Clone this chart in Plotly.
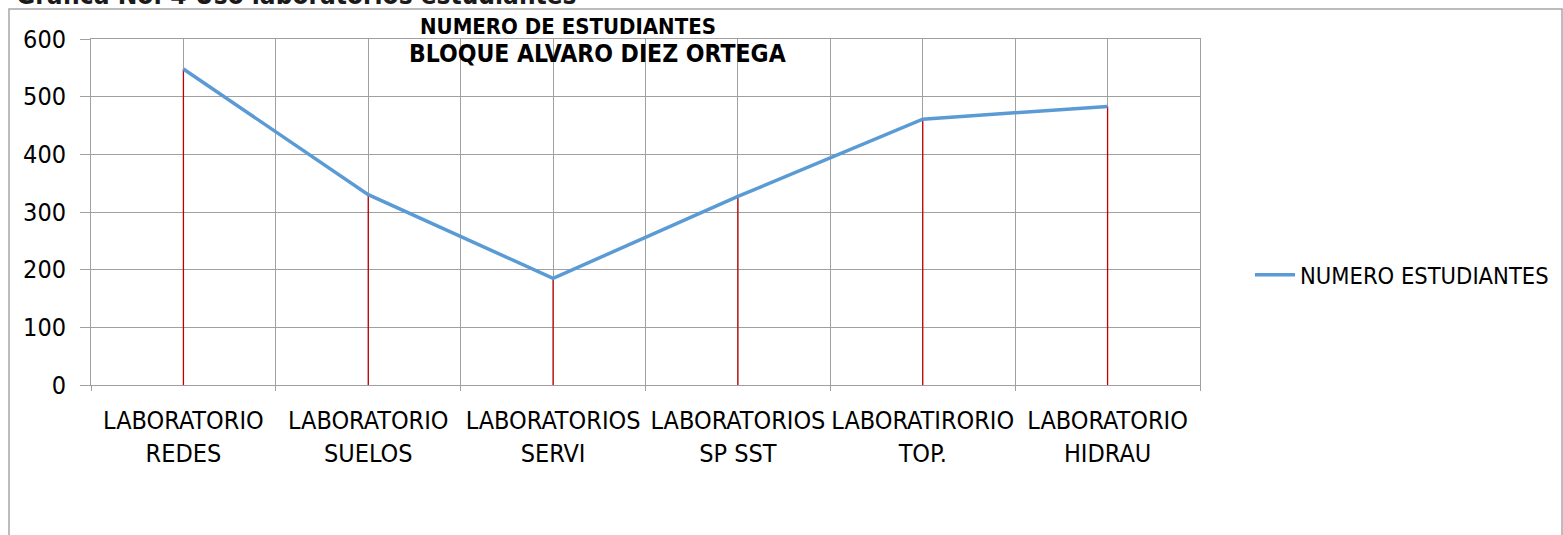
import plotly.graph_objects as go

categories_line1 = ["LABORATORIO", "LABORATORIO", "LABORATORIOS", "LABORATORIOS", "LABORATIRORIO", "LABORATORIO"]
categories_line2 = ["REDES", "SUELOS", "SERVI", "SP SST", "TOP.", "HIDRAU"]
estudiantes = [548, 330, 185, 327, 461, 483]
y_ticks = [0, 100, 200, 300, 400, 500, 600]
series_name = "NUMERO ESTUDIANTES"
chart_title = ["NUMERO DE ESTUDIANTES", "BLOQUE ALVARO DIEZ ORTEGA"]
doc_caption = "Grafica No. 4 Uso laboratorios estudiantes"

FONT = "DejaVu Sans Condensed, DejaVu Sans, sans-serif"
GRID = "#A0A0A0"

# plot area target (page px): x 91..1200, y 39..385 ; page body margin removed below
PL, PR, PT, PB = 91, 1200, 39, 385
W, H = 1563, 535
PW, PH = PR - PL, PB - PT


def px(xp):
    return (xp - PL) / PW


def py(yp):
    return (PB - yp) / PH


x_idx = list(range(len(estudiantes)))
tick_text = [f"{a}<br>{b}" for a, b in zip(categories_line1, categories_line2)]

fig = go.Figure()

# red drop lines from each point down to the axis
fig.add_trace(go.Scatter(
    x=x_idx, y=estudiantes, mode="markers",
    marker=dict(size=0.1, color="rgba(0,0,0,0)"),
    error_y=dict(type="data", symmetric=False, array=[0] * len(estudiantes),
                 arrayminus=estudiantes, width=0, thickness=1.3, color="#C00000"),
    showlegend=False, hoverinfo="skip",
))

fig.add_trace(go.Scatter(
    x=x_idx, y=estudiantes, mode="lines", name=series_name,
    line=dict(color="#5B9BD5", width=3.5),
))

fig.update_layout(
    width=W, height=H,
    margin=dict(l=PL, r=W - PR, t=PT, b=H - PB, autoexpand=False),
    paper_bgcolor="white", plot_bgcolor="white",
    font=dict(family=FONT, size=25, color="#000000"),
    showlegend=True,
    legend=dict(x=px(1250), y=py(275), xanchor="left", yanchor="middle",
                font=dict(family=FONT, size=23.5, color="#000000"),
                bgcolor="rgba(0,0,0,0)", itemwidth=40),
    xaxis=dict(
        range=[-0.5, len(estudiantes) - 0.5],
        tickmode="array", tickvals=x_idx, ticktext=tick_text,
        showgrid=True, gridcolor=GRID, gridwidth=1,
        showline=True, linecolor=GRID, linewidth=1, mirror=True,
        ticks="", zeroline=False,
        minor=dict(tickmode="array",
                   tickvals=[i - 0.5 for i in range(len(estudiantes) + 1)],
                   showgrid=True, gridcolor=GRID, gridwidth=1,
                   ticks="outside", ticklen=5, tickcolor=GRID),
        tickfont=dict(family=FONT, size=25, color="#000000"),
        ticklabelstandoff=13,
    ),
    yaxis=dict(
        range=[0, 600], tickmode="array", tickvals=y_ticks,
        showgrid=True, gridcolor=GRID, gridwidth=1,
        showline=True, linecolor=GRID, linewidth=1, mirror=True,
        ticks="outside", ticklen=10, tickcolor=GRID, zeroline=False,
        tickfont=dict(family=FONT, size=25, color="#000000"),
        ticklabelstandoff=9,
    ),
    shapes=[dict(type="rect", xref="paper", yref="paper",
                 x0=px(9), x1=px(1562),
                 y0=py(545), y1=py(9),
                 line=dict(color="#A6A6A6", width=1.5), fillcolor="rgba(0,0,0,0)",
                 layer="below")],
    annotations=[
        dict(text=chart_title[0], xref="paper", yref="paper",
             x=px(568), y=py(27), xanchor="center", yanchor="middle",
             showarrow=False, font=dict(family=FONT, size=22, color="#000000", weight="bold")),
        dict(text=chart_title[1], xref="paper", yref="paper",
             x=px(597), y=py(53), xanchor="center", yanchor="middle",
             showarrow=False, font=dict(family=FONT, size=24.5, color="#000000", weight="bold")),
        dict(text=doc_caption, xref="paper", yref="paper",
             x=px(14), y=py(12), xanchor="left", yanchor="bottom",
             showarrow=False, font=dict(family=FONT, size=26, color="#1a1a1a", weight="bold")),
    ],
)

fig.write_html("out.html", config={"displayModeBar": False},
               post_script="document.body.style.margin='0px';")
